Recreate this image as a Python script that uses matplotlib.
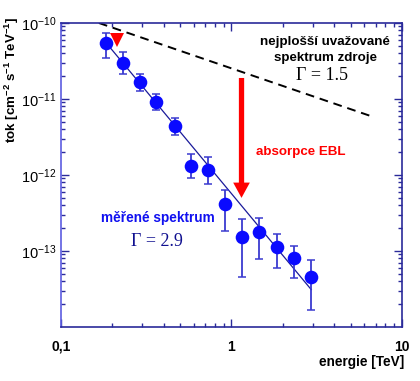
import matplotlib
matplotlib.use("Agg")
import matplotlib.pyplot as plt
from matplotlib.ticker import LogLocator, NullFormatter, FixedLocator, FixedFormatter

plt.rcParams['font.family'] = ['Liberation Sans', 'DejaVu Sans']
plt.rcParams['mathtext.fontset'] = 'custom'
plt.rcParams['mathtext.rm'] = 'Liberation Sans:bold'
plt.rcParams['mathtext.bf'] = 'Liberation Sans:bold'
plt.rcParams['mathtext.it'] = 'Liberation Sans:bold'

# measured spectrum
energy = [0.184, 0.231, 0.29, 0.36, 0.466, 0.578, 0.728, 0.916, 1.157, 1.456, 1.84, 2.33, 2.94]
flux = [5.45e-11, 2.98e-11, 1.67e-11, 9.1e-12, 4.4e-12, 1.3e-12, 1.16e-12, 4.1e-13, 1.52e-13, 1.8e-13, 1.13e-13, 8.2e-14, 4.6e-14]
flux_hi = [7.4e-11, 4.2e-11, 2.1e-11, 1.15e-11, 5.6e-12, 1.9e-12, 1.75e-12, 6.4e-13, 2.6e-13, 2.75e-13, 1.66e-13, 1.17e-13, 7.5e-14]
flux_lo = [3.5e-11, 2.1e-11, 1.27e-11, 7.2e-12, 3.4e-12, 9.0e-13, 7.6e-13, 1.83e-13, 4.5e-14, 7.85e-14, 6.0e-14, 4.45e-14, 1.67e-14]

# fitted line (measured, Gamma = 2.9)
fit_E = [0.184, 2.94]
fit_F = [5.5e-11, 3.1e-14]

# flattest considered source spectrum (Gamma = 1.5)
src_E = [0.167, 6.73]
src_F = [1.0e-10, 5.85e-12]

# EBL absorption arrows
arrow_E = 1.146
arrow_top = 1.89e-11
arrow_bottom = 5.0e-13
small_arrow_E = 0.213
small_arrow_F = 5.9e-11

xticks = [0.1, 1, 10]
xticklabels = ['0,1', '1', '10']
yticks = [1e-13, 1e-12, 1e-11, 1e-10]
yticklabels = [r'$\mathregular{10^{-13}}$', r'$\mathregular{10^{-12}}$',
               r'$\mathregular{10^{-11}}$', r'$\mathregular{10^{-10}}$']

fig = plt.figure(figsize=(4.2, 3.81), dpi=100)
ax = fig.add_axes([0.145, 0.1417, 0.812, 0.798])
ax.set_xscale('log')
ax.set_yscale('log')
ax.set_xlim(0.1, 10)
ax.set_ylim(1e-14, 1e-10)

# dashed source spectrum
ax.plot(src_E, src_F, color='black', lw=1.4, ls=(0, (4.5, 3)), zorder=2)

# fit line
ax.plot(fit_E, fit_F, color='#1a1a9a', lw=0.9, zorder=3)

# data with error bars
yerr_lo = [f - l for f, l in zip(flux, flux_lo)]
yerr_hi = [h - f for f, h in zip(flux, flux_hi)]
ax.errorbar(energy, flux, yerr=[yerr_lo, yerr_hi], fmt='none', ecolor='#3a3ad0',
            elinewidth=1.3, capsize=3, capthick=1.1, zorder=4)
ax.plot(energy, flux, 'o', color='#0a0aff', markersize=9.8, markeredgewidth=0, zorder=5)

# red arrows
ax.annotate('', xy=(arrow_E, arrow_bottom), xytext=(arrow_E, arrow_top),
            arrowprops=dict(arrowstyle='simple,head_width=12,head_length=11,tail_width=3.8',
                            mutation_scale=1, color='#ff0000', shrinkA=0, shrinkB=0, lw=0),
            zorder=6)
ax.plot([small_arrow_E], [small_arrow_F], 'v', color='#ff0000', markersize=10.5,
        markeredgewidth=0, zorder=6)

# texts (pixel positions)
H = 381
ax.text(325, H - 42, 'nejplošší uvažované', transform=None, ha='center', va='center',
        fontsize=9.6, fontweight='bold', color='black')
ax.text(325, H - 58, 'spektrum zdroje', transform=None, ha='center', va='center',
        fontsize=9.6, fontweight='bold', color='black')
ax.text(322, H - 76, 'Γ = 1.5', transform=None, ha='center', va='center',
        fontsize=13, family='Liberation Serif', color='black')
ax.text(301, H - 152, 'absorpce EBL', transform=None, ha='center', va='center',
        fontsize=9.6, fontweight='bold', color='#ff0000')
ax.text(158, H - 218, 'měřené spektrum', transform=None, ha='center', va='center',
        fontsize=9.8, fontweight='bold', color='#1010f0')
ax.text(157, H - 241, 'Γ = 2.9', transform=None, ha='center', va='center',
        fontsize=13, family='Liberation Serif', color='#101090')

# ticks
ax.xaxis.set_major_locator(FixedLocator(xticks))
ax.xaxis.set_major_formatter(FixedFormatter(xticklabels))
ax.xaxis.set_minor_locator(LogLocator(base=10, subs=range(2, 10)))
ax.xaxis.set_minor_formatter(NullFormatter())
ax.yaxis.set_major_locator(FixedLocator(yticks))
ax.yaxis.set_major_formatter(FixedFormatter(yticklabels))
ax.yaxis.set_minor_locator(LogLocator(base=10, subs=range(2, 10)))
ax.yaxis.set_minor_formatter(NullFormatter())

spine_col = '#2a2a9a'
ax.tick_params(which='both', direction='in', top=True, right=True, colors=spine_col,
               labelcolor='black', width=1)
ax.tick_params(which='major', length=6, labelsize=10)
ax.tick_params(axis='x', which='major', pad=9)
ax.tick_params(axis='y', which='major', pad=3, labelsize=10.5)
ax.tick_params(which='minor', length=3)
for lbl in ax.get_xticklabels():
    lbl.set_fontweight('bold')
for name, sp in ax.spines.items():
    sp.set_color(spine_col)
    sp.set_linewidth(1.2)
ax.spines['left'].set_color('#5c5ce0')

fig.text(12 / 420, 1 - 80 / H, r'tok [cm$^{-2}$ s$^{-1}$ TeV$^{-1}$]',
         rotation=90, ha='center', va='center', fontsize=9.6, fontweight='bold')
fig.text(362 / 420, 1 - 362 / H, 'energie [TeV]', ha='center', va='center',
         fontsize=9.8, fontweight='bold')

fig.savefig('out.png', dpi=100)
